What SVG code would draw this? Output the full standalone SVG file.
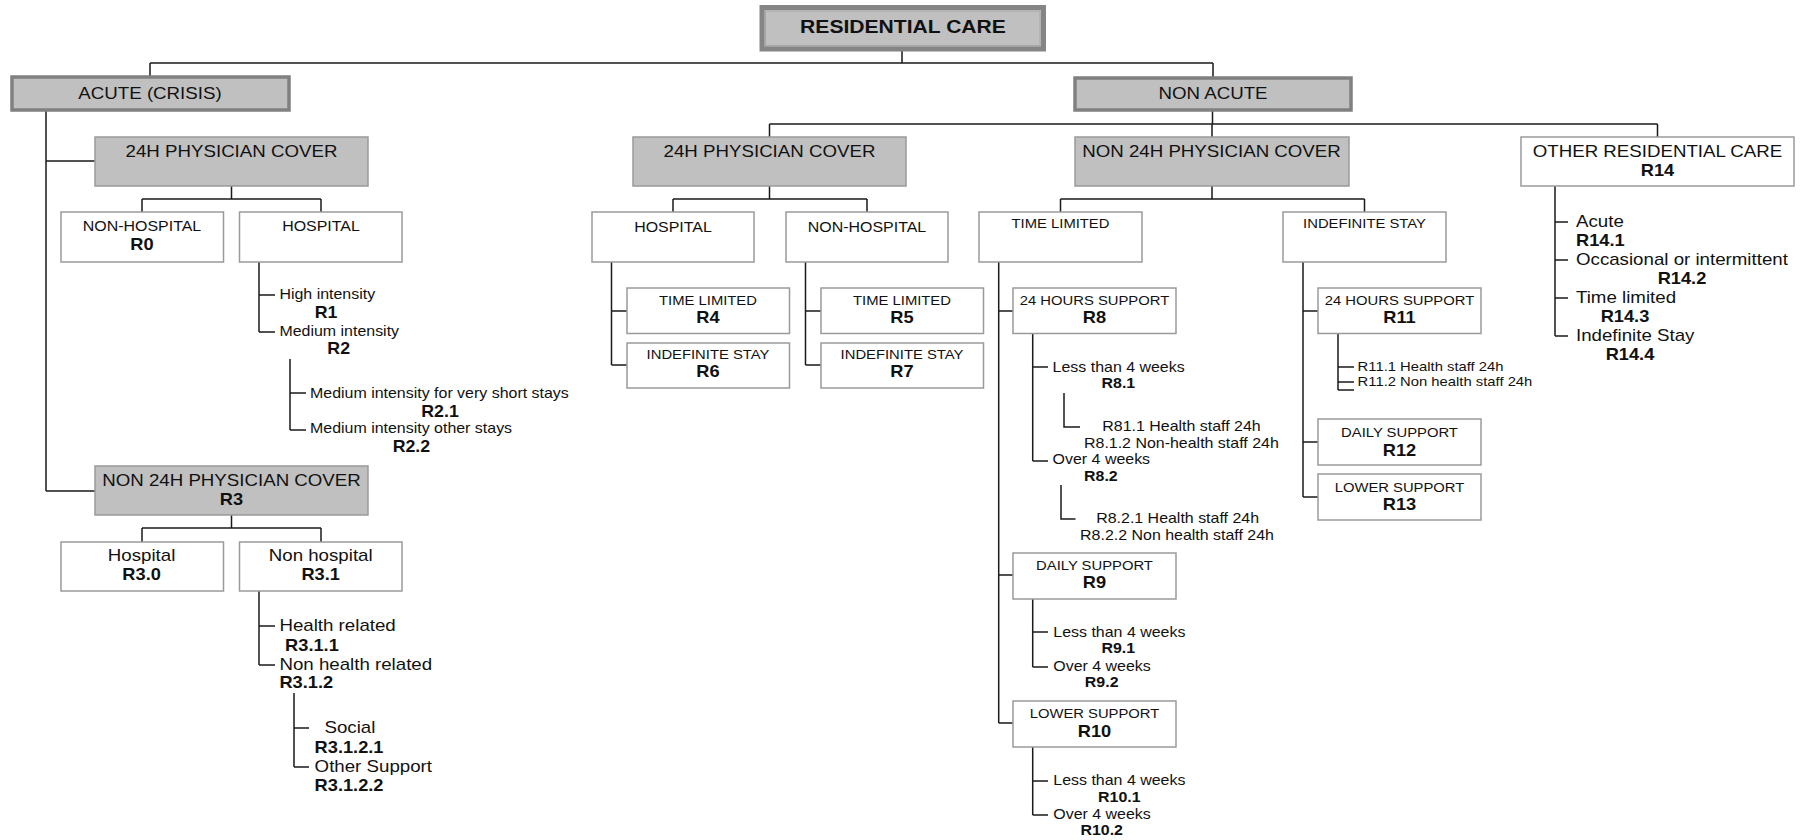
<svg xmlns="http://www.w3.org/2000/svg" width="1805" height="840" viewBox="0 0 1805 840">
<style>
text{font-family:"Liberation Sans",Arial,sans-serif;fill:#111}
.m{text-anchor:middle}
.f18b{font-size:18.5px;font-weight:bold}
.f16{font-size:16.4px}
.f14{font-size:14px}
.f13{font-size:13px}
.b16{font-size:16px;font-weight:bold}
.b15{font-size:15.6px;font-weight:bold}
.b13{font-size:14px;font-weight:bold}
.g{fill:#c0c0c0;stroke:#9a9a9a;stroke-width:1.5}
.w{fill:#fff;stroke:#9a9a9a;stroke-width:1.5}
.k{fill:#c0c0c0;stroke:#808080;stroke-width:3.5}
.c{fill:none;stroke:#1a1a1a;stroke-width:1.5}
</style>
<rect width="1805" height="840" fill="#fff"/>
<g id="connectors" class="c">
<path d="M902,51V63M150,63H1213M150,63V76M1213,63V77"/>
<path d="M1212.5,111V124M769.5,124H1657.5M769.5,124V137M1212,124V137M1657.5,124V137"/>
<path d="M46,111V491M46,161H95M46,491H95"/>
<path d="M231.5,186V199M142,199H321M142,199V212M321,199V212"/>
<path d="M259,262V332M259,295H275M259,332H275"/>
<path d="M290,359V430M290,393H306M290,430H306"/>
<path d="M231.5,515V528M142,528H321M142,528V542M321,528V542"/>
<path d="M259,591V665M259,626H275M259,665H275"/>
<path d="M294,693V767M294,728H309M294,767H309"/>
<path d="M769.5,186V199M673,199H867M673,199V212M867,199V212"/>
<path d="M611.5,262V365M611.5,311H627M611.5,365H627"/>
<path d="M805.5,262V365M805.5,311H821M805.5,365H821"/>
<path d="M1212,186V199M1060.5,199H1364.5M1060.5,199V212M1364.5,199V212"/>
<path d="M998.7,262V723M998.7,311H1013M998.7,575H1013M998.7,723H1013"/>
<path d="M1032.7,333V461M1032.7,367H1048M1032.7,461H1048"/>
<path d="M1064,393V427H1080"/>
<path d="M1061,485V519H1075.5"/>
<path d="M1032.7,599V667M1032.7,632H1048M1032.7,667H1048"/>
<path d="M1032.7,747V815M1032.7,781H1048M1032.7,815H1048"/>
<path d="M1303,262V497M1303,311H1318M1303,442H1318M1303,497H1318"/>
<path d="M1338,333V390M1338,367H1354M1338,382H1354M1338,390H1354"/>
<path d="M1555,186V336M1555,222H1568M1555,260H1568M1555,298H1568M1555,336H1568"/>
</g>
<g id="root">
<rect x="762" y="7.5" width="281.5" height="41.5" fill="#c0c0c0" stroke="#858585" stroke-width="5"/>
<rect x="765.5" y="11" width="274.5" height="34.5" fill="none" stroke="#a8a8a8" stroke-width="1"/>
<text class="f18b m" transform="matrix(1.14 0 0 1 903 33.3)">RESIDENTIAL CARE</text>
</g>
<g id="acute">
<rect class="k" x="12" y="77" width="277" height="33"/>
<text class="f16 m" transform="matrix(1.14 0 0 1 150 99)">ACUTE (CRISIS)</text>
</g>
<g id="nonacute">
<rect class="k" x="1075" y="78" width="276" height="32"/>
<text class="f16 m" transform="matrix(1.14 0 0 1 1213 99)">NON ACUTE</text>
</g>
<g id="a24h">
<rect class="g" x="95" y="137" width="273" height="49"/>
<text class="f16 m" transform="matrix(1.14 0 0 1 231.5 157)">24H PHYSICIAN COVER</text>
</g>
<g id="r0">
<rect class="w" x="61" y="212" width="162.5" height="50"/>
<text class="f14 m" transform="matrix(1.14 0 0 1 142 231)">NON-HOSPITAL</text>
<text class="b16 m" transform="matrix(1.14 0 0 1 142 250)">R0</text>
</g>
<g id="ahosp">
<rect class="w" x="239.5" y="212" width="162.5" height="50"/>
<text class="f14 m" transform="matrix(1.14 0 0 1 321 231)">HOSPITAL</text>
</g>
<g id="r1">
<text class="f14" transform="matrix(1.14 0 0 1 279.4 299.3)">High intensity</text>
<text class="b15 m" transform="matrix(1.14 0 0 1 326 318.3)">R1</text>
</g>
<g id="r2">
<text class="f14" transform="matrix(1.14 0 0 1 279.4 335.7)">Medium intensity</text>
<text class="b15 m" transform="matrix(1.14 0 0 1 338.7 354)">R2</text>
</g>
<g id="r21">
<text class="f14" transform="matrix(1.14 0 0 1 310 397.7)">Medium intensity for very short stays</text>
<text class="b15 m" transform="matrix(1.14 0 0 1 440 416.7)">R2.1</text>
</g>
<g id="r22">
<text class="f14" transform="matrix(1.14 0 0 1 310 433.3)">Medium intensity other stays</text>
<text class="b15 m" transform="matrix(1.14 0 0 1 411.4 451.7)">R2.2</text>
</g>
<g id="r3">
<rect class="g" x="95" y="466" width="273" height="49"/>
<text class="f16 m" transform="matrix(1.14 0 0 1 231.5 486)">NON 24H PHYSICIAN COVER</text>
<text class="b16 m" transform="matrix(1.14 0 0 1 231.5 505)">R3</text>
</g>
<g id="r30">
<rect class="w" x="61" y="542" width="162.5" height="49"/>
<text class="f16 m" transform="matrix(1.14 0 0 1 141.6 560.7)">Hospital</text>
<text class="b16 m" transform="matrix(1.14 0 0 1 141.6 580)">R3.0</text>
</g>
<g id="r31">
<rect class="w" x="239.5" y="542" width="162.5" height="49"/>
<text class="f16 m" transform="matrix(1.14 0 0 1 320.7 560.7)">Non hospital</text>
<text class="b16 m" transform="matrix(1.14 0 0 1 320.7 580)">R3.1</text>
</g>
<g id="r311">
<text class="f16" transform="matrix(1.14 0 0 1 279.4 630.7)">Health related</text>
<text class="b16" transform="matrix(1.14 0 0 1 285.1 650.7)">R3.1.1</text>
</g>
<g id="r312">
<text class="f16" transform="matrix(1.14 0 0 1 279.4 670)">Non health related</text>
<text class="b16" transform="matrix(1.14 0 0 1 279.4 688.3)">R3.1.2</text>
</g>
<g id="r3121">
<text class="f16" transform="matrix(1.14 0 0 1 324.5 732.7)">Social</text>
<text class="b16" transform="matrix(1.14 0 0 1 314.6 752.7)">R3.1.2.1</text>
</g>
<g id="r3122">
<text class="f16" transform="matrix(1.14 0 0 1 314.6 771.7)">Other Support</text>
<text class="b16" transform="matrix(1.14 0 0 1 314.6 790.7)">R3.1.2.2</text>
</g>
<g id="n24h">
<rect class="g" x="633" y="137" width="273" height="49"/>
<text class="f16 m" transform="matrix(1.14 0 0 1 769.5 157)">24H PHYSICIAN COVER</text>
</g>
<g id="nhosp">
<rect class="w" x="592" y="212" width="162" height="50"/>
<text class="f14 m" transform="matrix(1.14 0 0 1 673 231.7)">HOSPITAL</text>
</g>
<g id="nnonhosp">
<rect class="w" x="786" y="212" width="162" height="50"/>
<text class="f14 m" transform="matrix(1.14 0 0 1 867 231.7)">NON-HOSPITAL</text>
</g>
<g id="r4">
<rect class="w" x="627" y="288" width="162.5" height="45.5"/>
<text class="f13 m" transform="matrix(1.14 0 0 1 708 305)">TIME LIMITED</text>
<text class="b16 m" transform="matrix(1.14 0 0 1 708 323.3)">R4</text>
</g>
<g id="r6">
<rect class="w" x="627" y="343" width="162.5" height="45"/>
<text class="f13 m" transform="matrix(1.14 0 0 1 708 359.3)">INDEFINITE STAY</text>
<text class="b16 m" transform="matrix(1.14 0 0 1 708 377.3)">R6</text>
</g>
<g id="r5">
<rect class="w" x="821" y="288" width="162.5" height="45.5"/>
<text class="f13 m" transform="matrix(1.14 0 0 1 902 305)">TIME LIMITED</text>
<text class="b16 m" transform="matrix(1.14 0 0 1 902 323.3)">R5</text>
</g>
<g id="r7">
<rect class="w" x="821" y="343" width="162.5" height="45"/>
<text class="f13 m" transform="matrix(1.14 0 0 1 902 359.3)">INDEFINITE STAY</text>
<text class="b16 m" transform="matrix(1.14 0 0 1 902 377.3)">R7</text>
</g>
<g id="nn24h">
<rect class="g" x="1075" y="137" width="274" height="49"/>
<text class="f16 m" transform="matrix(1.14 0 0 1 1211.5 157)">NON 24H PHYSICIAN COVER</text>
</g>
<g id="ntime">
<rect class="w" x="979" y="212" width="163" height="50"/>
<text class="f13 m" transform="matrix(1.14 0 0 1 1060.5 228.3)">TIME LIMITED</text>
</g>
<g id="nindef">
<rect class="w" x="1283" y="212" width="163" height="50"/>
<text class="f13 m" transform="matrix(1.14 0 0 1 1364.5 228.3)">INDEFINITE STAY</text>
</g>
<g id="r8">
<rect class="w" x="1013" y="288" width="163" height="45.5"/>
<text class="f13 m" transform="matrix(1.14 0 0 1 1094.5 305)">24 HOURS SUPPORT</text>
<text class="b16 m" transform="matrix(1.14 0 0 1 1094.5 323.3)">R8</text>
</g>
<g id="r81">
<text class="f14" transform="matrix(1.14 0 0 1 1052.6 371.7)">Less than 4 weeks</text>
<text class="b13 m" transform="matrix(1.14 0 0 1 1118.4 388.3)">R8.1</text>
</g>
<g id="r811">
<text class="f14" transform="matrix(1.14 0 0 1 1102.3 430.7)">R81.1 Health staff 24h</text>
<text class="f14" transform="matrix(1.14 0 0 1 1084 447.7)">R8.1.2 Non-health staff 24h</text>
</g>
<g id="r82">
<text class="f14" transform="matrix(1.14 0 0 1 1052.6 464.3)">Over 4 weeks</text>
<text class="b13" transform="matrix(1.14 0 0 1 1084 480.7)">R8.2</text>
</g>
<g id="r821">
<text class="f14" transform="matrix(1.14 0 0 1 1096.2 523.3)">R8.2.1 Health staff 24h</text>
<text class="f14" transform="matrix(1.14 0 0 1 1080.1 540)">R8.2.2 Non health staff 24h</text>
</g>
<g id="r9">
<rect class="w" x="1013" y="553" width="163" height="46"/>
<text class="f13 m" transform="matrix(1.14 0 0 1 1094.5 570)">DAILY SUPPORT</text>
<text class="b16 m" transform="matrix(1.14 0 0 1 1094.5 588.3)">R9</text>
</g>
<g id="r91">
<text class="f14" transform="matrix(1.14 0 0 1 1053.3 636.7)">Less than 4 weeks</text>
<text class="b13 m" transform="matrix(1.14 0 0 1 1118.3 653.3)">R9.1</text>
</g>
<g id="r92">
<text class="f14" transform="matrix(1.14 0 0 1 1053.3 670.7)">Over 4 weeks</text>
<text class="b13 m" transform="matrix(1.14 0 0 1 1101.7 687.3)">R9.2</text>
</g>
<g id="r10">
<rect class="w" x="1013" y="701" width="163" height="46"/>
<text class="f13 m" transform="matrix(1.14 0 0 1 1094.5 718.3)">LOWER SUPPORT</text>
<text class="b16 m" transform="matrix(1.14 0 0 1 1094.5 736.7)">R10</text>
</g>
<g id="r101">
<text class="f14" transform="matrix(1.14 0 0 1 1053.3 785)">Less than 4 weeks</text>
<text class="b13 m" transform="matrix(1.14 0 0 1 1119.3 801.7)">R10.1</text>
</g>
<g id="r102">
<text class="f14" transform="matrix(1.14 0 0 1 1053.3 819)">Over 4 weeks</text>
<text class="b13 m" transform="matrix(1.14 0 0 1 1101.7 835)">R10.2</text>
</g>
<g id="r11">
<rect class="w" x="1318" y="288" width="163" height="45.5"/>
<text class="f13 m" transform="matrix(1.14 0 0 1 1399.5 305)">24 HOURS SUPPORT</text>
<text class="b16 m" transform="matrix(1.14 0 0 1 1399.5 323.3)">R11</text>
</g>
<g id="r111">
<text class="f13" transform="matrix(1.14 0 0 1 1357.6 370.7)">R11.1 Health staff 24h</text>
<text class="f13" transform="matrix(1.14 0 0 1 1357.6 385.7)">R11.2 Non health staff 24h</text>
</g>
<g id="r12">
<rect class="w" x="1318" y="419" width="163" height="46"/>
<text class="f13 m" transform="matrix(1.14 0 0 1 1399.5 437.3)">DAILY SUPPORT</text>
<text class="b16 m" transform="matrix(1.14 0 0 1 1399.5 455.7)">R12</text>
</g>
<g id="r13">
<rect class="w" x="1318" y="474" width="163" height="46"/>
<text class="f13 m" transform="matrix(1.14 0 0 1 1399.5 491.7)">LOWER SUPPORT</text>
<text class="b16 m" transform="matrix(1.14 0 0 1 1399.5 510)">R13</text>
</g>
<g id="r14">
<rect class="w" x="1521" y="137" width="273" height="49"/>
<text class="f16 m" transform="matrix(1.14 0 0 1 1657.5 157)">OTHER RESIDENTIAL CARE</text>
<text class="b16 m" transform="matrix(1.14 0 0 1 1657.5 176)">R14</text>
</g>
<g id="r141">
<text class="f16" transform="matrix(1.14 0 0 1 1576 227)">Acute</text>
<text class="b16" transform="matrix(1.14 0 0 1 1576 246)">R14.1</text>
</g>
<g id="r142">
<text class="f16" transform="matrix(1.14 0 0 1 1576 265)">Occasional or intermittent</text>
<text class="b16 m" transform="matrix(1.14 0 0 1 1682 284)">R14.2</text>
</g>
<g id="r143">
<text class="f16" transform="matrix(1.14 0 0 1 1576 303)">Time limited</text>
<text class="b16 m" transform="matrix(1.14 0 0 1 1625 322)">R14.3</text>
</g>
<g id="r144">
<text class="f16" transform="matrix(1.14 0 0 1 1576 341)">Indefinite Stay</text>
<text class="b16 m" transform="matrix(1.14 0 0 1 1630 360)">R14.4</text>
</g>
</svg>
